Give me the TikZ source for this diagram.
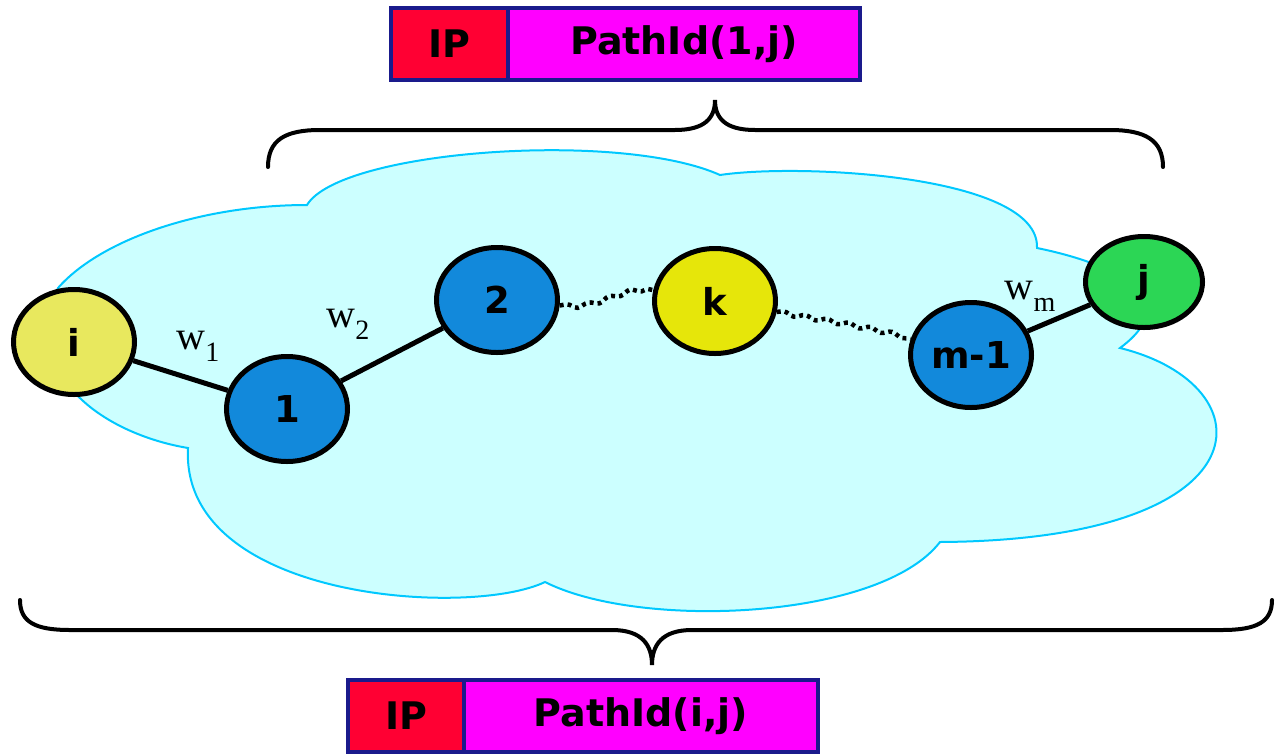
\documentclass[tikz,border=0pt]{standalone}
\usepackage{fontspec}
\setmainfont{Liberation Serif}
\newfontfamily\comicfont{DejaVu Sans}
\usetikzlibrary{positioning,shapes.geometric,decorations.pathmorphing}
\definecolor{cloudfill}{HTML}{CCFFFF}
\definecolor{cloudedge}{HTML}{00C8FF}
\definecolor{nodeyellow}{HTML}{E8E85E}
\definecolor{nodegold}{HTML}{E6E60A}
\definecolor{nodeblue}{HTML}{1289DB}
\definecolor{nodegreen}{HTML}{2CD655}
\definecolor{hdrred}{HTML}{FF0033}
\definecolor{hdrpink}{HTML}{FF00FF}
\definecolor{hdrnavy}{HTML}{1A1A8C}
\newcommand{\wlab}[1]{w\raisebox{-0.3em}{\fontsize{28}{28}\selectfont #1}}

\begin{document}
\begin{tikzpicture}[
    x=1pt,y=-1pt,
    vertex/.style={ellipse,draw=black,line width=5pt,minimum width=121pt,
      minimum height=105pt,inner sep=0pt,
      font=\comicfont\bfseries\fontsize{37}{37}\selectfont},
    field/.style={rectangle,draw=hdrnavy,line width=3.5pt,minimum height=72pt,
      inner sep=0pt,outer sep=0pt,
      font=\comicfont\bfseries\fontsize{38}{38}\selectfont},
    hop/.style={line width=5pt},
    farhop/.style={line width=4.5pt,dash pattern=on 4pt off 4pt,
      decorate,decoration={snake,amplitude=1.8pt,segment length=22pt}},
    curly/.style={line width=4pt,line cap=round},
    weight/.style={font=\fontsize{40}{40}\selectfont,inner sep=0pt}
  ]
    \useasboundingbox (0,0) rectangle (1275,753);

    % the network cloud
    \draw[cloudedge,fill=cloudfill,line width=2pt]
      (58,288) .. controls (100,240) and (200,205) .. (307,205)
      .. controls (340,150) and (620,130) .. (720,175)
      .. controls (800,163) and (1040,175) .. (1037,248)
      .. controls (1120,265) and (1185,300) .. (1120,348)
      .. controls (1270,385) and (1270,540) .. (940,542)
      .. controls (880,620) and (640,630) .. (545,582)
      .. controls (470,618) and (180,600) .. (188,448)
      .. controls (110,435) and (20,380) .. cycle;

    % header fields
    \node[field,fill=hdrred,minimum width=117pt] (ipT) at (449.5,44) {IP};
    \node[field,fill=hdrpink,minimum width=352pt,right=0pt of ipT] (pidT) {PathId(1,j)};
    \node[field,fill=hdrred,minimum width=116pt] (ipB) at (406,716) {IP};
    \node[field,fill=hdrpink,minimum width=354pt,right=0pt of ipB] (pidB) {PathId(i,j)};

    % braces
    \draw[curly] (268,167) .. controls (268,140) and (285,130) .. (320,130)
      -- (675,130) .. controls (705,130) and (715,118) .. (715,100)
      .. controls (715,118) and (725,130) .. (755,130)
      -- (1110,130) .. controls (1145,130) and (1163,140) .. (1163,167);
    \draw[curly] (20,600) .. controls (20,622) and (35,630) .. (70,630)
      -- (612,630) .. controls (642,630) and (652,645) .. (652,665)
      .. controls (652,645) and (662,630) .. (692,630)
      -- (1222,630) .. controls (1257,630) and (1272,622) .. (1272,600);

    % routers on the path
    \node[vertex,fill=nodeyellow] (i) at (74,342) {i};
    \node[vertex,fill=nodeblue] (one) at (287,409) {1};
    \node[vertex,fill=nodeblue] (two) at (497,300) {2};
    \node[vertex,fill=nodegold] (k) at (715,301) {k};
    \node[vertex,fill=nodeblue] (m) at (971,355) {m-1};
    \node[vertex,fill=nodegreen,minimum width=117pt,minimum height=91pt] (j) at (1144,282) {j};

    \draw[hop] (i) -- (one);
    \draw[hop] (one) -- (two);
    \draw[hop] (m) -- (j);
    \draw[farhop] (two) to[out=-5,in=170] (k);
    \draw[farhop] (k) to[out=-10,in=165] (m);

    \node[weight] (w1) at (198,346) {\wlab{1}};
    \node[weight] (w2) at (348,324) {\wlab{2}};
    \node[weight] (wm) at (1030,296) {\wlab{m}};
\end{tikzpicture}
\end{document}
